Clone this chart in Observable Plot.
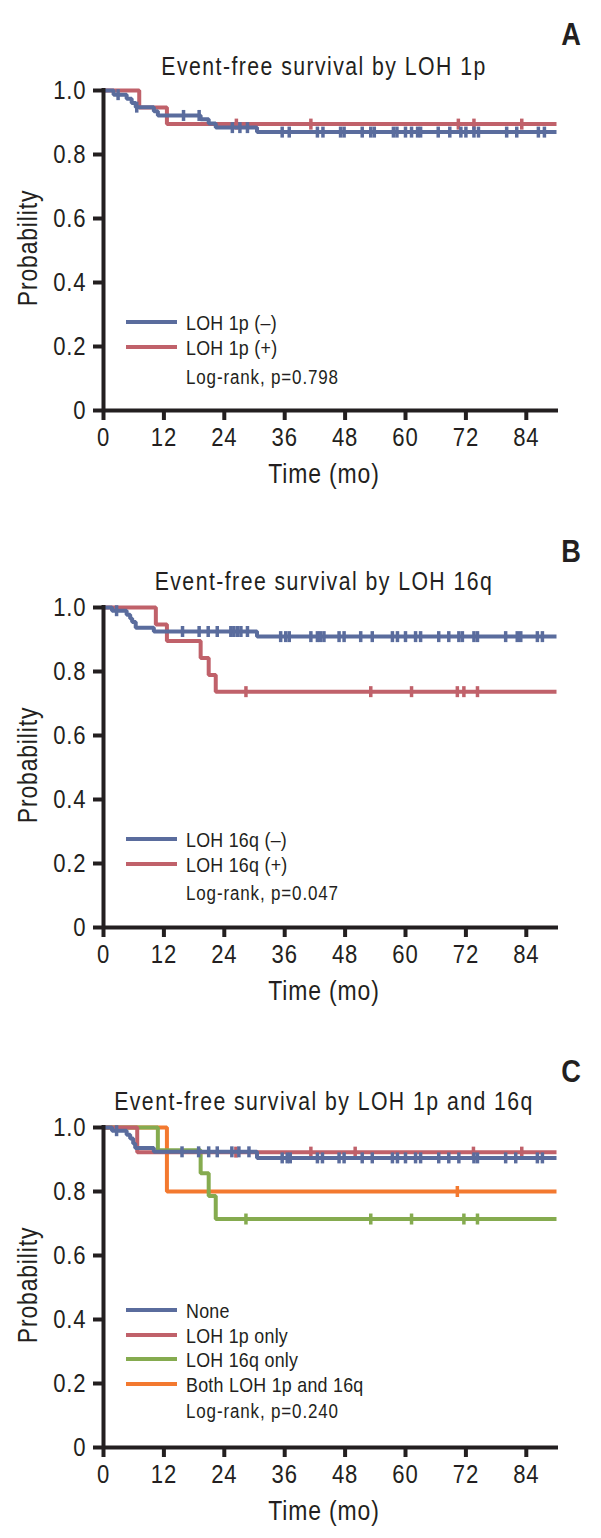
<!DOCTYPE html>
<html>
<head>
<meta charset="utf-8">
<script src="https://cdn.jsdelivr.net/npm/d3@7"></script>
<script src="https://cdn.jsdelivr.net/npm/@observablehq/plot@0.6"></script>
<style>
  body { margin: 0; background: #fff; }
  #root { position: relative; width: 601px; height: 1538px; overflow: hidden;
          font-family: "Liberation Sans", Arial, sans-serif; color: #231f20; }
  .abs { position: absolute; white-space: nowrap; line-height: 1; }
  .title { font-size: 25px; letter-spacing: 1.7px; }
  .letter { font-size: 32px; font-weight: bold; }
  .axlabel { font-size: 27px; letter-spacing: 1px; }
  .leg { font-size: 21px; letter-spacing: 0.3px; }
  .lr { font-size: 20px; letter-spacing: 1px; }
  svg text { letter-spacing: 1px; }
</style>
</head>
<body>
<div id="root"></div>
<script>
// ---------- shared axis data ----------
const xTicks = [0, 12, 24, 36, 48, 60, 72, 84];
const yTicks = [0, 0.2, 0.4, 0.6, 0.8, 1.0];
const yTickLabels = ["0", "0.2", "0.4", "0.6", "0.8", "1.0"];
const followUpEnd = 90;

// ---------- Panel A: LOH 1p ----------
const aNegTime = [0, 2.0, 4.6, 5.6, 6.4, 10.0, 10.8, 19.3, 20.9, 22.3, 30.5];
const aNegSurv = [1, 0.987, 0.974, 0.961, 0.948, 0.935, 0.922, 0.910, 0.897, 0.884, 0.870];
const aNegCens = [2.9, 6.6, 15.9, 19.0, 25.6, 27.1, 28.6, 35.5, 36.9, 42.5, 43.6, 47.1, 47.8, 51.4, 53.1, 53.8,
                  57.6, 58.3, 60.0, 61.2, 62.4, 63.0, 66.5, 68.8, 71.0, 72.0, 73.6, 74.5, 80.1, 82.1, 86.4, 87.6];
const aPosTime = [0, 7.1, 12.6];
const aPosSurv = [1, 0.947, 0.895];
const aPosCens = [26.4, 41.2, 70.5, 73.6, 83.1];

// ---------- Panel B: LOH 16q ----------
const bNegTime = [0, 1.7, 4.6, 5.3, 5.7, 6.4, 10.0, 30.5];
const bNegSurv = [1, 0.99, 0.977, 0.966, 0.955, 0.937, 0.925, 0.909];
const bNegCens = [2.6, 15.7, 19.0, 20.8, 22.6, 25.3, 25.9, 26.6, 27.3, 28.6, 35.2, 36.2, 36.9, 41.2, 42.5, 43.1,
                  43.8, 46.8, 47.8, 51.1, 53.4, 57.4, 58.4, 60.0, 62.0, 63.0, 66.6, 68.6, 70.6, 71.3, 73.6, 74.3,
                  79.9, 82.2, 82.9, 86.2, 87.2];
const bPosTime = [0, 10.4, 12.6, 19.3, 20.9, 22.3];
const bPosSurv = [1, 0.947, 0.895, 0.842, 0.789, 0.737];
const bPosCens = [28.3, 53.1, 61.2, 70.3, 71.6, 74.3];

// ---------- Panel C: LOH 1p and 16q ----------
const cNoneTime = [0, 1.7, 4.6, 5.3, 5.9, 6.3, 10.0, 30.5];
const cNoneSurv = [1, 0.99, 0.977, 0.966, 0.95, 0.936, 0.924, 0.905];
const cNoneCens = [2.6, 15.6, 18.9, 20.9, 22.6, 25.5, 26.9, 28.9, 35.5, 36.5, 37.1, 42.5, 43.5, 46.8, 47.8, 51.4,
                   53.4, 57.4, 58.4, 60.0, 62.0, 63.0, 66.6, 68.6, 70.6, 73.6, 74.3, 79.9, 81.9, 86.2, 87.2];
const c1pTime = [0, 6.7];
const c1pSurv = [1, 0.923];
const c1pCens = [26.3, 41.2, 50.0, 73.5, 83.1];
const c16qTime = [0, 10.8, 19.3, 20.9, 22.3];
const c16qSurv = [1, 0.929, 0.857, 0.786, 0.714];
const c16qCens = [28.3, 53.1, 61.2, 71.6, 74.3];
const cBothTime = [0, 12.6];
const cBothSurv = [1, 0.8];
const cBothCens = [70.3];

// ---------- styling ----------
const ink = "#231f20";
const colBlue = "#5a6c9d";
const colRed = "#c0616a";
const colGreen = "#85ab4f";
const colOrange = "#f3792f";
const narrow = 0.85;   // horizontal squeeze to imitate a condensed face

const panels = [
  { letter: "A", title: "Event-free survival by LOH 1p", top: 90, titleOff: 24,
    series: [
      { name: "LOH 1p (+)", color: colRed, time: aPosTime, surv: aPosSurv, cens: aPosCens },
      { name: "LOH 1p (\u2013)", color: colBlue, time: aNegTime, surv: aNegSurv, cens: aNegCens }
    ],
    legend: [["LOH 1p (\u2013)", colBlue], ["LOH 1p (+)", colRed]],
    logrank: "Log-rank, p=0.798", lrOff: 33 },
  { letter: "B", title: "Event-free survival by LOH 16q", top: 607, titleOff: 26,
    series: [
      { name: "LOH 16q (+)", color: colRed, time: bPosTime, surv: bPosSurv, cens: bPosCens },
      { name: "LOH 16q (\u2013)", color: colBlue, time: bNegTime, surv: bNegSurv, cens: bNegCens }
    ],
    legend: [["LOH 16q (\u2013)", colBlue], ["LOH 16q (+)", colRed]],
    logrank: "Log-rank, p=0.047", lrOff: 34 },
  { letter: "C", title: "Event-free survival by LOH 1p and 16q", top: 1127, titleOff: 26,
    series: [
      { name: "Both LOH 1p and 16q", color: colOrange, time: cBothTime, surv: cBothSurv, cens: cBothCens },
      { name: "LOH 16q only", color: colGreen, time: c16qTime, surv: c16qSurv, cens: c16qCens },
      { name: "LOH 1p only", color: colRed, time: c1pTime, surv: c1pSurv, cens: c1pCens },
      { name: "None", color: colBlue, time: cNoneTime, surv: cNoneSurv, cens: cNoneCens }
    ],
    legend: [["None", colBlue], ["LOH 1p only", colRed], ["LOH 16q only", colGreen], ["Both LOH 1p and 16q", colOrange]],
    logrank: "Log-rank, p=0.240", lrOff: 36 }
];

const plotH = 320;      // pixel height of 0..1
const marginTop = 10;
const marginBottom = 85;

// vertical censor tick symbol
const censorSymbol = {
  draw(ctx, size) {
    const h = Math.sqrt(size / Math.PI);
    ctx.moveTo(0, -h);
    ctx.lineTo(0, h);
  }
};

function survAt(time, surv, t) {
  let v = surv[0];
  for (let i = 0; i < time.length; i++) if (time[i] <= t) v = surv[i];
  return v;
}

const root = document.getElementById("root");
function addDiv(cls, text, css) {
  const d = document.createElement("div");
  d.className = "abs " + cls;
  d.textContent = text;
  Object.assign(d.style, css);
  root.appendChild(d);
  return d;
}

const yLabelMap = new Map(yTicks.map((v, i) => [v, yTickLabels[i]]));

for (const p of panels) {
  const y1 = p.top, y0 = p.top + plotH;
  const marks = [];
  for (const s of p.series) {
    const rows = s.time.map((t, i) => ({ t, s: s.surv[i] }));
    rows.push({ t: followUpEnd, s: s.surv[s.surv.length - 1] });
    const cens = s.cens.map(t => ({ t, s: survAt(s.time, s.surv, t) }));
    marks.push(Plot.line(rows, { x: "t", y: "s", curve: "step-after", stroke: s.color, strokeWidth: 4,
                                 strokeLinejoin: "miter", strokeLinecap: "butt" }));
    marks.push(Plot.dot(cens, { x: "t", y: "s", symbol: censorSymbol, r: 5.5, fill: "none",
                                stroke: s.color, strokeWidth: 3.5 }));
  }
  marks.push(Plot.ruleY([0], { stroke: ink, strokeWidth: 4, insetRight: -2 }));
  marks.push(Plot.ruleX([0], { stroke: ink, strokeWidth: 4, insetTop: -2 }));
  marks.push(Plot.axisX(xTicks, { anchor: "bottom", tickSize: 10, tickPadding: 7, stroke: ink, strokeWidth: 4,
                                  fill: ink, fontSize: 26, label: null, tickFormat: d => String(d) }));
  marks.push(Plot.axisY(yTicks, { anchor: "left", tickSize: 10, tickPadding: 7, stroke: ink, strokeWidth: 4,
                                  fill: ink, fontSize: 26, label: null, tickFormat: d => yLabelMap.get(d) }));

  const svg = Plot.plot({
    width: 601,
    height: marginTop + plotH + marginBottom,
    marginTop, marginBottom,
    marginLeft: 103, marginRight: 45,
    x: { domain: [0, followUpEnd] },
    y: { domain: [0, 1] },
    style: { fontFamily: "'Liberation Sans', Arial, sans-serif", background: "transparent", overflow: "visible" },
    marks
  });
  // squeeze tick labels horizontally around their anchor point
  svg.querySelectorAll("text").forEach(t => {
    t.setAttribute("transform", (t.getAttribute("transform") || "") + ` scale(${narrow},1)`);
  });
  svg.style.position = "absolute";
  svg.style.left = "0px";
  svg.style.top = (y1 - marginTop) + "px";
  root.appendChild(svg);

  // panel letter & title
  addDiv("letter", p.letter, { left: "0px", width: "581px", textAlign: "right", top: (y1 - 57 - 15.5) + "px",
                               transformOrigin: "100% 50%", transform: `scaleX(${narrow})` });
  addDiv("title", p.title, { left: "324px", top: (y1 - p.titleOff - 12) + "px",
                             transform: `translateX(-50%) scaleX(${narrow})` });

  // axis labels
  addDiv("axlabel", "Time (mo)", { left: "324px", top: (y0 + 64) + "px",
                                   transform: `translate(-50%,-50%) scaleX(${narrow})` });
  addDiv("axlabel", "Probability", { left: "28px", top: ((y1 + y0) / 2 - 2) + "px",
                                      transform: `translate(-50%,-50%) rotate(-90deg) scaleX(${narrow})` });

  // legend
  const n = p.legend.length;
  p.legend.forEach(([label, color], i) => {
    const yy = y0 - 63 - 24.6 * (n - 1 - i);
    const ln = document.createElement("div");
    Object.assign(ln.style, { position: "absolute", left: "126px", width: "51px", height: "4px",
                              top: (yy - 2) + "px", background: color });
    root.appendChild(ln);
    addDiv("leg", label, { left: "186px", top: (yy - 10) + "px",
                           transformOrigin: "0 50%", transform: `scaleX(${narrow})` });
  });
  addDiv("lr", p.logrank, { left: "186px", top: (y0 - p.lrOff - 9.6) + "px",
                            transformOrigin: "0 50%", transform: `scaleX(${narrow})` });
}
</script>
</body>
</html>
